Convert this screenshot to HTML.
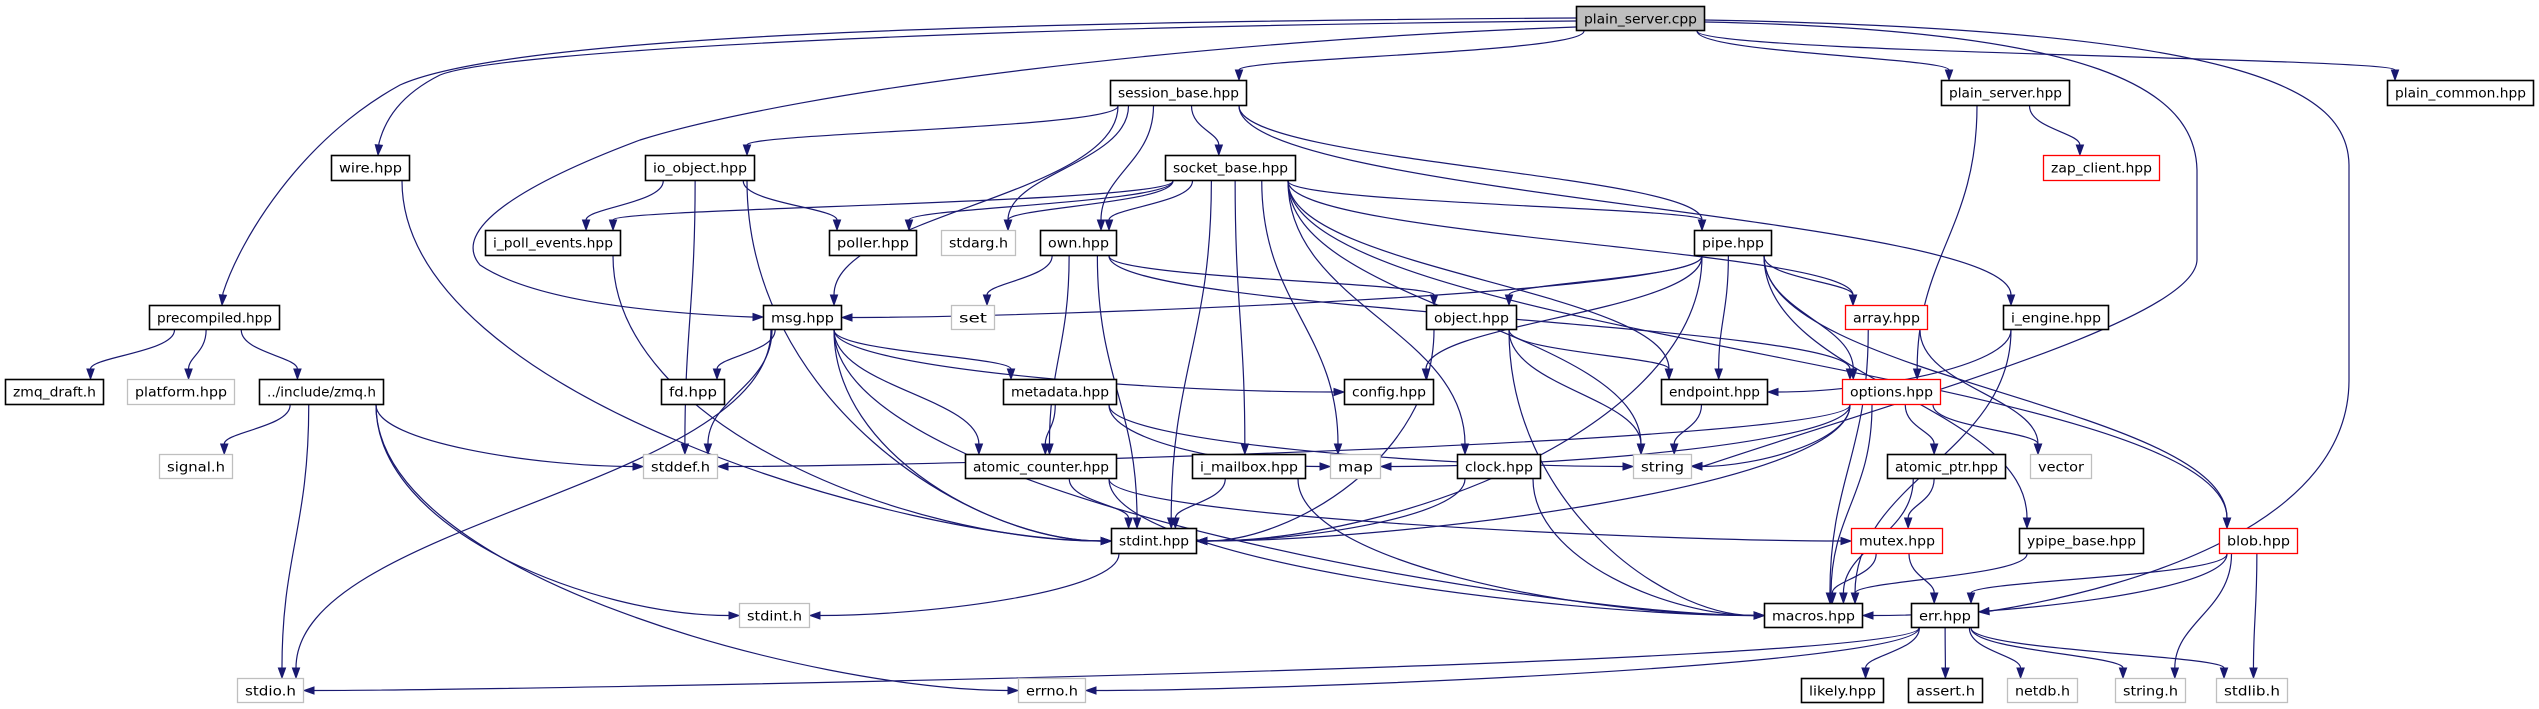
<!DOCTYPE html>
<html><head><meta charset="utf-8"><style>
html,body{margin:0;padding:0;background:#fff;}
svg{display:block;}
text{font-family:"DejaVu Sans","Liberation Sans",sans-serif;font-size:13px;fill:#000;}
</style></head><body>
<svg id="g" width="2539" height="709" viewBox="0 0 2539 709" xmlns="http://www.w3.org/2000/svg">
<g id="edges" fill="none" stroke="#191970" stroke-width="1.2"></g>
<g id="arrows" fill="#191970" stroke="#191970"></g>
<g id="nodes"></g>
</svg>
<script>
var N={
"plain_server.cpp":[1576,1705,6,31,"f"],
"session_base.hpp":[1110,1247,80,106,"b"],
"plain_server.hpp":[1941,2070,80,106,"b"],
"plain_common.hpp":[2387,2534,80,106,"b"],
"wire.hpp":[331,410,155,181,"b"],
"io_object.hpp":[645,755,155,181,"b"],
"socket_base.hpp":[1165,1296,155,181,"b"],
"zap_client.hpp":[2043,2160,155,181,"r"],
"i_poll_events.hpp":[485,621,230,256,"b"],
"poller.hpp":[829,917,230,256,"b"],
"stdarg.h":[941,1016,230,256,"g"],
"own.hpp":[1040,1117,230,256,"b"],
"pipe.hpp":[1694,1772,230,256,"b"],
"precompiled.hpp":[149,280,305,330,"b"],
"msg.hpp":[763,842,305,330,"b"],
"set":[951,995,305,330,"g"],
"object.hpp":[1426,1517,305,330,"b"],
"array.hpp":[1845,1928,305,330,"r"],
"i_engine.hpp":[2003,2109,305,330,"b"],
"zmq_draft.h":[5,104,379,405,"b"],
"platform.hpp":[127,235,379,405,"g"],
"../include/zmq.h":[259,384,379,405,"b"],
"fd.hpp":[661,725,379,405,"b"],
"metadata.hpp":[1003,1117,379,405,"b"],
"config.hpp":[1344,1434,379,405,"b"],
"endpoint.hpp":[1661,1768,379,405,"b"],
"options.hpp":[1842,1941,379,405,"r"],
"signal.h":[159,233,454,479,"g"],
"stddef.h":[643,718,454,479,"g"],
"atomic_counter.hpp":[965,1117,454,479,"b"],
"i_mailbox.hpp":[1192,1306,454,479,"b"],
"map":[1330,1381,454,479,"g"],
"clock.hpp":[1457,1541,454,479,"b"],
"string":[1633,1692,454,479,"g"],
"atomic_ptr.hpp":[1887,2006,454,479,"b"],
"vector":[2030,2092,454,479,"g"],
"stdint.hpp":[1111,1197,528,554,"b"],
"mutex.hpp":[1851,1943,528,554,"r"],
"ypipe_base.hpp":[2019,2144,528,554,"b"],
"blob.hpp":[2219,2298,528,554,"r"],
"stdint.h":[739,810,603,628,"g"],
"macros.hpp":[1764,1863,603,628,"b"],
"err.hpp":[1911,1979,603,628,"b"],
"stdio.h":[237,304,678,703,"g"],
"errno.h":[1018,1086,678,703,"g"],
"likely.hpp":[1801,1884,678,703,"b"],
"assert.h":[1908,1983,678,703,"b"],
"netdb.h":[2007,2078,678,703,"g"],
"string.h":[2115,2186,678,703,"g"],
"stdlib.h":[2216,2288,678,703,"g"]
};
var E={
"plain_server.cpp":["session_base.hpp","plain_server.hpp","plain_common.hpp"],
"session_base.hpp":["socket_base.hpp","io_object.hpp","msg.hpp","stdarg.h","own.hpp","pipe.hpp","i_engine.hpp"],
"socket_base.hpp":["i_poll_events.hpp","poller.hpp","stdarg.h","own.hpp","pipe.hpp","array.hpp","blob.hpp","stdint.hpp","i_mailbox.hpp","map","clock.hpp","string","endpoint.hpp"],
"io_object.hpp":["i_poll_events.hpp","poller.hpp","stdint.hpp:L","stddef.h"],
"i_poll_events.hpp":["stdint.hpp:L"],
"wire.hpp":["stdint.hpp:L"],
"precompiled.hpp":["zmq_draft.h","platform.hpp","../include/zmq.h"],
"../include/zmq.h":["signal.h","stdio.h","stddef.h:L","stdint.h:L","errno.h:L"],
"msg.hpp":["fd.hpp","stddef.h","stdio.h","metadata.hpp","atomic_counter.hpp","config.hpp:L","stdint.hpp:L","macros.hpp:L"],
"metadata.hpp":["atomic_counter.hpp","map:L","string:L"],
"atomic_counter.hpp":["stdint.hpp","macros.hpp:L","mutex.hpp:L"],
"i_mailbox.hpp":["stdint.hpp","macros.hpp:L"],
"clock.hpp":["stdint.hpp:R","macros.hpp:L"],
"stdint.hpp":["stdint.h:R"],
"own.hpp":["set","object.hpp","options.hpp","atomic_counter.hpp","stdint.hpp"],
"object.hpp":["endpoint.hpp","string","stdint.hpp:R","macros.hpp:L"],
"pipe.hpp":["msg.hpp:R","object.hpp","config.hpp","endpoint.hpp","array.hpp","options.hpp","stdint.hpp:R","ypipe_base.hpp","blob.hpp"],
"array.hpp":["vector","macros.hpp"],
"i_engine.hpp":["endpoint.hpp:R","macros.hpp"],
"plain_server.hpp":["options.hpp","zap_client.hpp"],
"endpoint.hpp":["string"],
"options.hpp":["stddef.h:R","map:R","string:R","stdint.hpp:R","atomic_ptr.hpp","vector","macros.hpp"],
"atomic_ptr.hpp":["mutex.hpp","macros.hpp"],
"mutex.hpp":["macros.hpp","err.hpp"],
"ypipe_base.hpp":["macros.hpp"],
"blob.hpp":["macros.hpp:R","err.hpp","string.h","stdlib.h"],
"err.hpp":["likely.hpp","assert.h","netdb.h","string.h","stdlib.h","stdio.h:R","errno.h:R"]
};
var CUSTOM=[
 ["M1576,18 C900,22 500,40 400,85 C300,140 240,240 223,293",[222,305]],
 ["M1576,21 C1000,26 500,50 440,75 C400,95 385,120 379,143",[378,155]],
 ["M1576,27 C1200,40 800,90 640,140 C520,185 450,230 480,265 C540,305 680,314 751,317",[763,317]],
 ["M1705,22 C2100,30 2195,90 2197,170 L2197,260 C2195,320 1900,400 1704,466",[1692,466]],
 ["M1705,20 C2250,30 2348,90 2349,165 L2349,380 C2349,520 2150,585 1991,611",[1979,612]]
];
var NS="http://www.w3.org/2000/svg";
function el(n,a,p){var e=document.createElementNS(NS,n);for(var k in a)e.setAttribute(k,a[k]);p.appendChild(e);return e;}
var eg=document.getElementById("edges"),ag=document.getElementById("arrows"),ng=document.getElementById("nodes");
function cx(n){return (n[0]+n[1])/2;}
function arrow(tx,ty,fx,fy){
 var ux=tx-fx,uy=ty-fy,L=Math.sqrt(ux*ux+uy*uy)||1;ux/=L;uy/=L;
 var ah=10,aw=3.6,bx=tx-ux*ah,by=ty-uy*ah;
 el("polygon",{points:tx+","+ty+" "+(bx-uy*aw)+","+(by+ux*aw)+" "+(bx+uy*aw)+","+(by-ux*aw)},ag);
 return [bx,by];
}
CUSTOM.forEach(function(c){
 var m=c[0].match(/(-?[\d.]+),(-?[\d.]+)\s*$/);
 var ex=+m[1],ey=+m[2];var t=c[1];
 var b=arrow(t[0],t[1],ex,ey);
 el("path",{d:c[0]+" L"+b[0]+","+b[1]},eg);
});
for(var s in E){E[s].forEach(function(spec){
 var p=spec.split(":"),t=p[0],side=p[1]||"T";
 var a=N[s],b=N[t];if(!a||!b)return;
 var sx,sy,tx,ty,c1x,c1y,c2x,c2y;
 var hx=cx(b);
 sx=Math.max(a[0]+8,Math.min(a[1]-8,cx(a)+(hx-cx(a))*0.25));
 sy=a[3];
 if(side=="T"){
  tx=Math.max(b[0]+8,Math.min(b[1]-8,hx+(sx-hx)*0.3));ty=b[2];
  var d=(ty-sy)*0.45;c1x=sx;c1y=sy+d;c2x=tx;c2y=ty-d;
 } else {
  ty=(b[2]+b[3])/2; tx=side=="L"?b[0]:b[1];
  var dist=Math.abs(tx-sx);
  if(ty<=sy+5){
   sy=(a[2]+a[3])/2; sx=side=="L"?a[1]:a[0];
   c1x=sx+(tx-sx)*0.4;c1y=sy;c2x=tx-(tx-sx)*0.4;c2y=ty;
  } else {
   c1x=sx;c1y=sy+(ty-sy)*0.6;c2x=tx+(side=="L"?-1:1)*Math.min(dist*0.4,200);c2y=ty;
  }
 }
 var bb=arrow(tx,ty,c2x,c2y);
 el("path",{d:"M"+sx+","+sy+" C"+c1x+","+c1y+" "+c2x+","+c2y+" "+bb[0]+","+bb[1]},eg);
});}
for(var k in N){var n=N[k];
 var st=n[4]=="g"?"#bfbfbf":(n[4]=="r"?"#ff0000":"#000");
 var fill=n[4]=="f"?"#bfbfbf":"#fff";
 el("rect",{x:n[0]+0.5,y:n[2]+0.5,width:n[1]-n[0]-1,height:n[3]-n[2]-1,fill:fill,stroke:st,"stroke-width":n[4]=="b"||n[4]=="f"?1.6:1.3},ng);
 var w=n[1]-n[0]-16;
 var t=el("text",{x:cx(n),y:n[2]+17.5,"text-anchor":"middle",textLength:w,lengthAdjust:"spacingAndGlyphs"},ng);
 t.textContent=k;
}
</script>
</body></html>
